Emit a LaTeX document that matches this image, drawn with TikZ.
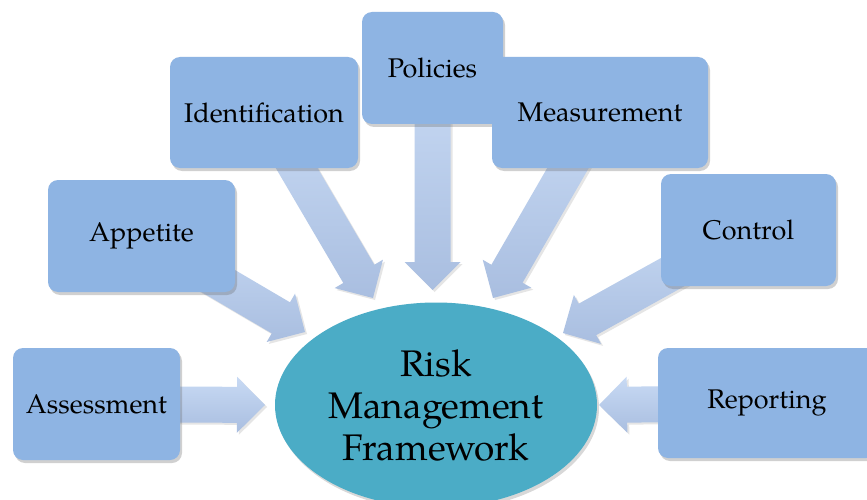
\documentclass[tikz,border=0pt]{standalone}
\usepackage{fontspec}
\setmainfont{TeX Gyre Pagella}
\usetikzlibrary{shapes.geometric,calc,shadows,backgrounds}
\pgfdeclarelayer{paper}
\pgfsetlayers{paper,background,main}
\definecolor{boxblue}{HTML}{8EB4E3}
\definecolor{ellteal}{HTML}{4BACC6}
\definecolor{arrtop}{HTML}{C8DAF4}
\definecolor{arrbot}{HTML}{A9BEE0}
\tikzset{
 box/.style={rectangle, rounded corners=10pt, fill=boxblue, inner sep=0pt,
   minimum height=112pt, font=\fontsize{27}{32}\selectfont,
   drop shadow={shadow xshift=2pt, shadow yshift=-3pt, opacity=0.3, fill=black!60}},
 hub/.style={ellipse, fill=ellteal, minimum width=322pt, minimum height=205pt,
   inner sep=0pt, align=center, font=\fontsize{37}{42}\selectfont,
   drop shadow={shadow xshift=2pt, shadow yshift=-3pt, opacity=0.25, fill=black!60}},
 blockarrow/.style={top color=arrtop, bottom color=arrbot,
   drop shadow={shadow xshift=2pt, shadow yshift=-2pt, opacity=0.2, fill=black!50}}
}
\newcommand\blockarr[2]{%
 \coordinate (hb) at ($(#2)!28pt!(#1)$);
 \shade[blockarrow] ($(#1)!18pt!90:(#2)$) -- ($(hb)!18pt!90:(#2)$) -- ($(hb)!28pt!90:(#2)$)
   -- (#2) -- ($(hb)!28pt!-90:(#2)$) -- ($(hb)!18pt!-90:(#2)$) -- ($(#1)!18pt!-90:(#2)$) -- cycle;}
\begin{document}
\begin{tikzpicture}[x=1pt,y=-1pt]
\useasboundingbox (0,0) rectangle (867,500);
\begin{pgfonlayer}{paper}
\fill[white] (0,0) rectangle (867,500);
\end{pgfonlayer}
\begin{scope}
\clip (0,0) rectangle (867,500);
\node[box, minimum width=167pt] (assess) at (96.5,404) {Assessment};
\node[box, minimum width=187pt] (appet) at (141.5,236) {Appetite};
\node[box, minimum width=188pt, minimum height=111pt] (ident) at (264,112.5) {Identification};
\node[box, minimum width=141pt] (policy) at (432.5,68) {Policies};
\node[box, minimum width=216pt, minimum height=111pt] (measure) at (600,112.5) {Measurement};
\node[box, minimum width=175pt] (control) at (748.5,230) {Control};
\node[box, minimum width=218pt, minimum height=110pt] (report) at (767,403) {Reporting};
\node[hub] (hub) at (436,405) {Risk\\Management\\Framework};
\end{scope}
\coordinate (tAs) at (265,405);
\coordinate (tAp) at (305,332);
\coordinate (tId) at (373,298);
\coordinate (tPo) at (432.5,290);
\coordinate (tMe) at (493,298);
\coordinate (tCo) at (563,333);
\coordinate (tRe) at (599,405);
\begin{pgfonlayer}{background}
\blockarr{assess}{tAs}
\blockarr{appet}{tAp}
\blockarr{ident}{tId}
\blockarr{policy}{tPo}
\blockarr{measure}{tMe}
\blockarr{control}{tCo}
\blockarr{report}{tRe}
\end{pgfonlayer}
\end{tikzpicture}
\end{document}
